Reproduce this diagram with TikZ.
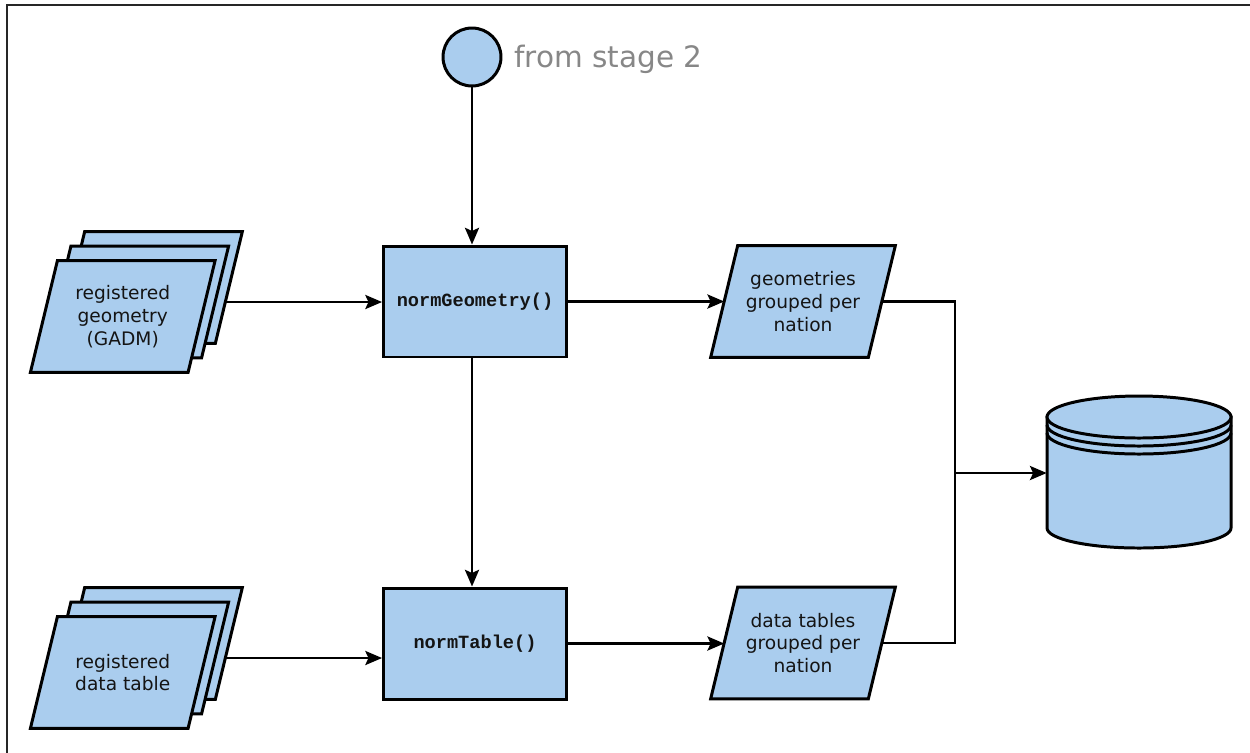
\documentclass[tikz,border=0pt]{standalone}
\usepackage{fontspec}
\setmainfont{DejaVu Sans}
\newfontfamily\codefont{Liberation Mono}
\usetikzlibrary{arrows.meta,calc,backgrounds}
\definecolor{boxfill}{RGB}{170,205,238}
\definecolor{txt}{RGB}{20,20,20}
\definecolor{graytxt}{RGB}{135,135,135}
\newcommand\paradraw[1]{%
  \draw[shp] ($(#1.north west)+(13.5,0)$) -- ($(#1.north east)+(13.5,0)$)
    -- ($(#1.south east)+(-13.5,0)$) -- ($(#1.south west)+(-13.5,0)$) -- cycle;}
\begin{document}
\begin{tikzpicture}[x=0.02cm,y=-0.02cm,
  shp/.style={draw=black, fill=boxfill, line width=1.7pt, line join=miter},
  para/.style={minimum width=3.14cm, minimum height=2.22cm, inner sep=0pt,
    align=center, text=txt, font=\fontsize{10.6}{13}\selectfont},
  procbox/.style={shp, minimum width=3.66cm, minimum height=2.22cm, inner sep=0pt,
    align=center, text=txt, font=\codefont\bfseries\fontsize{10.6}{13}\selectfont},
  wire/.style={line width=1.5pt, draw=black},
  conn/.style={wire, -{Stealth[length=9.5pt,width=8pt,inset=1.8pt]}}]
\useasboundingbox (0,0) rectangle (1250,752);
% frame
\draw[line width=0.8pt, draw=black!85] (7,760) -- (7,5) -- (1260,5);

% start circle
\node[shp, circle, minimum size=1.16cm, inner sep=0pt] (circ) at (472,57) {};
\node[anchor=base west, inner sep=0pt, text=graytxt, font=\fontsize{16.8}{20}\selectfont] (lbl) at (514,67) {from stage 2};

% process boxes
\node[procbox] (normG) at (475,301.5) {normGeometry()};
\node[procbox] (normT) at (475,643.5) {normTable()};

% input stacks
\node[para] (gadm3) at (150,287.5) {};
\node[para] (gadm2) at (136.25,302) {};
\node[para] (gadm1) at (122.75,316.5) {registered\\geometry\\(GADM)};
\node[para] (tab3) at (150,643.5) {};
\node[para] (tab2) at (136.25,658) {};
\node[para] (tab1) at (122.75,672.5) {registered\\data table};

% outputs
\node[para] (geo) at (803,301.5) {geometries\\grouped per\\nation};
\node[para] (dt) at (803,643) {data tables\\grouped per\\nation};

% database
\node[minimum width=3.68cm, minimum height=3cm, inner sep=0pt] (db) at (1139,472) {};

\begin{pgfonlayer}{background}
  \paradraw{gadm3}\paradraw{gadm2}\paradraw{gadm1}
  \paradraw{tab3}\paradraw{tab2}\paradraw{tab1}
  \paradraw{geo}\paradraw{dt}
  % cylinder
  \draw[shp] (1047,417) -- (1047,528) arc[start angle=180, end angle=0, x radius=92, y radius=20]
    -- (1231,417) -- cycle;
  \draw[shp] (1139,417) ellipse[x radius=92, y radius=21];
  \draw[shp, fill=none] (1047,425) arc[start angle=180, end angle=0, x radius=92, y radius=21];
  \draw[shp, fill=none] (1047,433) arc[start angle=180, end angle=0, x radius=92, y radius=21];
\end{pgfonlayer}

% connectors
\coordinate (j) at (955,473);
\draw[conn] (circ.south) -- (circ |- normG.north);
\draw[conn] (circ |- normG.south) -- (circ |- normT.north);
\draw[conn] ([xshift=-0.07cm]gadm3.east |- gadm2.center) -- (normG.west |- gadm2.center);
\draw[conn] ([xshift=-0.07cm]tab3.east |- tab2.center) -- (normT.west |- tab2.center);
\draw[conn] (normG.east) -- (geo.west |- normG.east);
\draw[conn] (normT.east) -- (dt.west |- normT.east);
\draw[wire] (geo.east) -| (j) |- (dt.east);
\draw[conn] (j) -- (j -| db.west);
\end{tikzpicture}
\end{document}
